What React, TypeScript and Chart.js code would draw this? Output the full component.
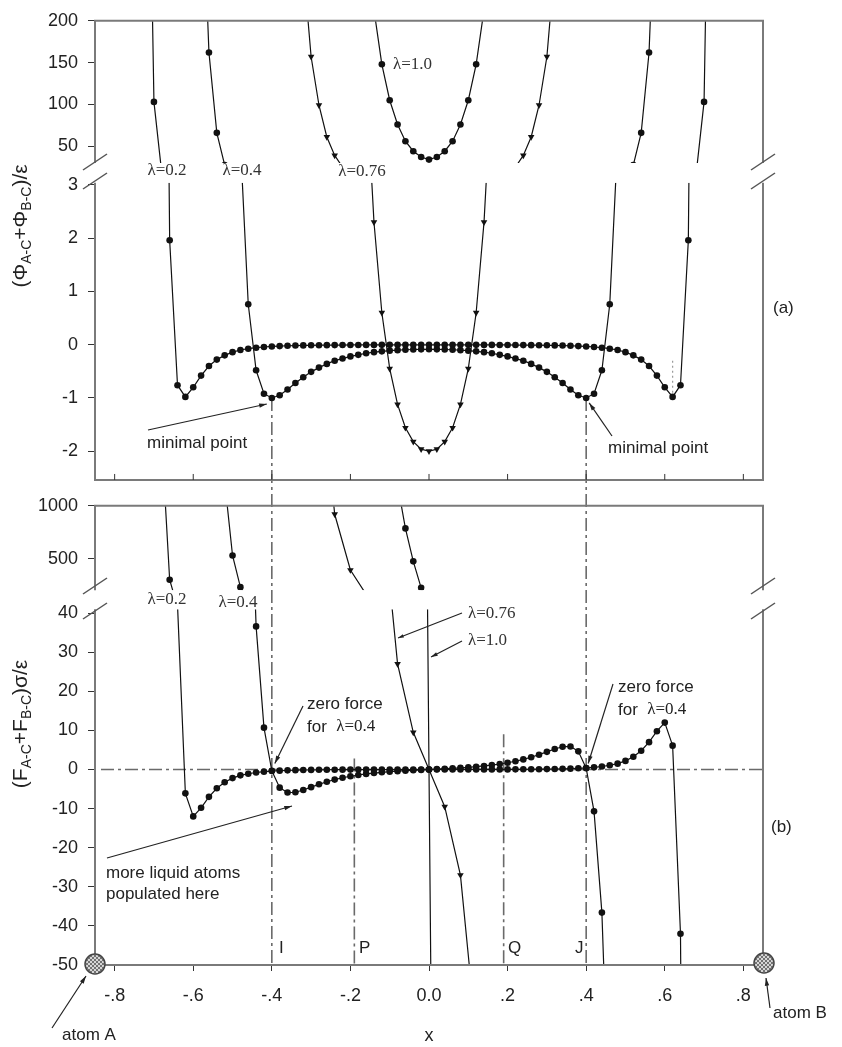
import React, { useEffect, useRef } from 'react';
import { Chart, registerables } from 'chart.js';

Chart.register(...registerables);

const SANS = '"Liberation Sans", Arial, Helvetica, sans-serif';
const SERIF = '"Liberation Serif", "Times New Roman", serif';

type P = [number, number];

// ---------- x axis ----------
const X_MIN = -0.85;
const X_MAX = 0.85;
const X_TICKS = [-0.8, -0.6, -0.4, -0.2, 0, 0.2, 0.4, 0.6, 0.8];
const X_TICK_LABELS = ['-.8', '-.6', '-.4', '-.2', '0.0', '.2', '.4', '.6', '.8'];

// ---------- y axes (broken) ----------
const Y_TICKS_A_UP = [50, 100, 150, 200];
const Y_TICKS_A_LOW = [-2, -1, 0, 1, 2, 3];
const Y_TICKS_B_UP = [500, 1000];
const Y_TICKS_B_LOW = [-50, -40, -30, -20, -10, 0, 10, 20, 30, 40];

const LAMBDA_LABELS = ['λ=0.2', 'λ=0.4', 'λ=0.76', 'λ=1.0'];

// ---------- panel (a): (Φ_A-C + Φ_B-C)/ε ----------
const PHI_02: P[] = [
  [-0.72, 650], [-0.70, 103], [-0.68, 17.5], [-0.66, 1.96], [-0.64, -0.76], [-0.62, -0.98],
  [-0.60, -0.80], [-0.58, -0.58], [-0.56, -0.40], [-0.54, -0.28], [-0.52, -0.20], [-0.50, -0.14],
  [-0.48, -0.10], [-0.46, -0.075], [-0.44, -0.056], [-0.42, -0.043], [-0.40, -0.033], [-0.38, -0.026],
  [-0.36, -0.020], [-0.34, -0.016], [-0.32, -0.013], [-0.30, -0.011], [-0.28, -0.009], [-0.26, -0.008],
  [-0.24, -0.007], [-0.22, -0.006], [-0.20, -0.005], [-0.18, -0.005], [-0.16, -0.004], [-0.14, -0.004],
  [-0.12, -0.003], [-0.10, -0.003], [-0.08, -0.003], [-0.06, -0.002], [-0.04, -0.002], [-0.02, -0.002],
  [0, -0.002],
  [0.02, -0.002], [0.04, -0.002], [0.06, -0.002], [0.08, -0.003], [0.10, -0.003], [0.12, -0.003],
  [0.14, -0.004], [0.16, -0.004], [0.18, -0.005], [0.20, -0.005], [0.22, -0.006], [0.24, -0.007],
  [0.26, -0.008], [0.28, -0.009], [0.30, -0.011], [0.32, -0.013], [0.34, -0.016], [0.36, -0.020],
  [0.38, -0.026], [0.40, -0.033], [0.42, -0.043], [0.44, -0.056], [0.46, -0.075], [0.48, -0.10],
  [0.50, -0.14], [0.52, -0.20], [0.54, -0.28], [0.56, -0.40], [0.58, -0.58], [0.60, -0.80],
  [0.62, -0.98], [0.64, -0.76], [0.66, 1.96], [0.68, 17.5], [0.70, 103], [0.72, 650],
];

const PHI_04: P[] = [
  [-0.58, 405], [-0.56, 162], [-0.54, 66], [-0.52, 27.5], [-0.50, 10.9], [-0.48, 3.80],
  [-0.46, 0.76], [-0.44, -0.48], [-0.42, -0.92], [-0.40, -1.00], [-0.38, -0.95], [-0.36, -0.84],
  [-0.34, -0.72], [-0.32, -0.61], [-0.30, -0.51], [-0.28, -0.43], [-0.26, -0.36], [-0.24, -0.30],
  [-0.22, -0.26], [-0.20, -0.22], [-0.18, -0.19], [-0.16, -0.16], [-0.14, -0.14], [-0.12, -0.125],
  [-0.10, -0.112], [-0.08, -0.102], [-0.06, -0.095], [-0.04, -0.090], [-0.02, -0.087], [0, -0.086],
  [0.02, -0.087], [0.04, -0.090], [0.06, -0.095], [0.08, -0.102], [0.10, -0.112], [0.12, -0.125],
  [0.14, -0.14], [0.16, -0.16], [0.18, -0.19], [0.20, -0.22], [0.22, -0.26], [0.24, -0.30],
  [0.26, -0.36], [0.28, -0.43], [0.30, -0.51], [0.32, -0.61], [0.34, -0.72], [0.36, -0.84],
  [0.38, -0.95], [0.40, -1.00], [0.42, -0.92], [0.44, -0.48], [0.46, 0.76], [0.48, 3.80],
  [0.50, 10.9], [0.52, 27.5], [0.54, 66], [0.56, 162], [0.58, 405],
];

const PHI_076: P[] = [
  [-0.32, 267], [-0.30, 157], [-0.28, 99], [-0.26, 61], [-0.24, 39], [-0.22, 25],
  [-0.20, 15.4], [-0.18, 9.1], [-0.16, 5.0], [-0.14, 2.3], [-0.12, 0.6], [-0.10, -0.45],
  [-0.08, -1.12], [-0.06, -1.56], [-0.04, -1.82], [-0.02, -1.96], [0, -2.0],
  [0.02, -1.96], [0.04, -1.82], [0.06, -1.56], [0.08, -1.12], [0.10, -0.45], [0.12, 0.6],
  [0.14, 2.3], [0.16, 5.0], [0.18, 9.1], [0.20, 15.4], [0.22, 25], [0.24, 39],
  [0.26, 61], [0.28, 99], [0.30, 157], [0.32, 267],
];

const PHI_10: P[] = [
  [-0.14, 213], [-0.12, 148], [-0.10, 105], [-0.08, 76], [-0.06, 56], [-0.04, 44], [-0.02, 37],
  [0, 34],
  [0.02, 37], [0.04, 44], [0.06, 56], [0.08, 76], [0.10, 105], [0.12, 148], [0.14, 213],
];

// ---------- panel (b): (F_A-C + F_B-C)σ/ε ----------
const F_02: P[] = [
  [-0.68, 1611], [-0.66, 300], [-0.64, 42], [-0.62, -6.1], [-0.60, -12.0], [-0.58, -9.8],
  [-0.56, -7.0], [-0.54, -4.8], [-0.52, -3.25], [-0.50, -2.2], [-0.48, -1.5], [-0.46, -1.08],
  [-0.44, -0.77], [-0.42, -0.55], [-0.40, -0.40], [-0.38, -0.30], [-0.36, -0.22], [-0.34, -0.17],
  [-0.32, -0.13], [-0.30, -0.10], [-0.28, -0.08], [-0.26, -0.06], [-0.24, -0.05], [-0.22, -0.04],
  [-0.20, -0.03], [-0.18, -0.025], [-0.16, -0.02], [-0.14, -0.015], [-0.12, -0.012], [-0.10, -0.009],
  [-0.08, -0.007], [-0.06, -0.005], [-0.04, -0.003], [-0.02, -0.002], [0, 0],
  [0.02, 0.002], [0.04, 0.003], [0.06, 0.005], [0.08, 0.007], [0.10, 0.009], [0.12, 0.012],
  [0.14, 0.015], [0.16, 0.02], [0.18, 0.025], [0.20, 0.03], [0.22, 0.04], [0.24, 0.05],
  [0.26, 0.06], [0.28, 0.08], [0.30, 0.10], [0.32, 0.13], [0.34, 0.17], [0.36, 0.22],
  [0.38, 0.30], [0.40, 0.40], [0.42, 0.55], [0.44, 0.77], [0.46, 1.08], [0.48, 1.5],
  [0.50, 2.2], [0.52, 3.25], [0.54, 4.8], [0.56, 7.0], [0.58, 9.8], [0.60, 12.0],
  [0.62, 6.1], [0.64, -42], [0.66, -300], [0.68, -1611],
];

const F_04: P[] = [
  [-0.52, 1232], [-0.50, 530], [-0.48, 230], [-0.46, 95], [-0.44, 36.6], [-0.42, 10.7],
  [-0.40, -0.34], [-0.38, -4.64], [-0.36, -5.89], [-0.34, -5.82], [-0.32, -5.25], [-0.30, -4.51],
  [-0.28, -3.79], [-0.26, -3.13], [-0.24, -2.58], [-0.22, -2.11], [-0.20, -1.72], [-0.18, -1.40],
  [-0.16, -1.13], [-0.14, -0.91], [-0.12, -0.72], [-0.10, -0.56], [-0.08, -0.43], [-0.06, -0.31],
  [-0.04, -0.20], [-0.02, -0.10], [0, 0],
  [0.02, 0.10], [0.04, 0.20], [0.06, 0.31], [0.08, 0.43], [0.10, 0.56], [0.12, 0.72],
  [0.14, 0.91], [0.16, 1.13], [0.18, 1.40], [0.20, 1.72], [0.22, 2.11], [0.24, 2.58],
  [0.26, 3.13], [0.28, 3.79], [0.30, 4.51], [0.32, 5.25], [0.34, 5.82], [0.36, 5.89],
  [0.38, 4.64], [0.40, 0.34], [0.42, -10.7], [0.44, -36.6], [0.46, -95], [0.48, -230],
  [0.50, -530], [0.52, -1232],
];

const F_076: P[] = [
  [-0.28, 2422], [-0.24, 920], [-0.20, 392], [-0.16, 162], [-0.12, 68], [-0.08, 27], [-0.04, 9.5],
  [0, 0],
  [0.04, -9.5], [0.08, -27], [0.12, -68], [0.16, -162], [0.20, -392], [0.24, -920], [0.28, -2422],
];

const F_10: P[] = [
  [-0.08, 1202], [-0.06, 786], [-0.04, 474], [-0.02, 223], [0, 0],
  [0.02, -223], [0.04, -474], [0.06, -786], [0.08, -1202],
];

// ---------- helpers ----------
const toXY = (pts: P[]) => pts.map(([x, y]) => ({ x, y }));

function curveSet(pts: P[], axis: string, tri: boolean, label: string) {
  return {
    label,
    data: toXY(pts),
    xAxisID: 'x',
    yAxisID: axis,
    borderColor: '#111',
    borderWidth: 1.2,
    pointRadius: tri ? 3.8 : 3.3,
    pointStyle: tri ? 'triangle' : 'circle',
    pointRotation: tri ? 180 : 0,
    pointBackgroundColor: '#111',
    pointBorderColor: '#111',
    pointBorderWidth: 0,
    tension: 0,
    fill: false,
  };
}

function yAxis(min: number, max: number, weight: number, stackWeight: number, ticks: number[]) {
  const show = ticks.length > 0;
  return {
    type: 'linear',
    position: 'left',
    stack: 'v',
    stackWeight,
    weight,
    min,
    max,
    bounds: 'data',
    afterFit: (s: any) => { s.width = 95; },
    afterBuildTicks: (s: any) => { s.ticks = ticks.map((v) => ({ value: v })); },
    border: { display: false },
    grid: { display: show, drawOnChartArea: false, drawTicks: true, tickLength: 7, color: '#333', lineWidth: 1 },
    ticks: {
      display: show,
      autoSkip: false,
      padding: 10,
      color: '#222',
      font: { family: SANS, size: 18 },
      callback: (v: number) => String(v),
    },
  };
}

function arrow(ctx: CanvasRenderingContext2D, x1: number, y1: number, x2: number, y2: number, head = 8) {
  ctx.beginPath();
  ctx.moveTo(x1, y1);
  ctx.lineTo(x2, y2);
  ctx.stroke();
  const a = Math.atan2(y2 - y1, x2 - x1);
  ctx.beginPath();
  ctx.moveTo(x2, y2);
  ctx.lineTo(x2 - head * Math.cos(a - 0.28), y2 - head * Math.sin(a - 0.28));
  ctx.lineTo(x2 - head * Math.cos(a + 0.28), y2 - head * Math.sin(a + 0.28));
  ctx.closePath();
  ctx.fill();
}

function mixedRotated(ctx: CanvasRenderingContext2D, segs: [string, boolean][], cx: number, cy: number) {
  const main = `21px ${SANS}`;
  const sub = `14px ${SANS}`;
  ctx.save();
  ctx.translate(cx, cy);
  ctx.rotate(-Math.PI / 2);
  let total = 0;
  for (const [t, s] of segs) {
    ctx.font = s ? sub : main;
    total += ctx.measureText(t).width;
  }
  let x = -total / 2;
  ctx.textBaseline = 'alphabetic';
  ctx.textAlign = 'left';
  for (const [t, s] of segs) {
    ctx.font = s ? sub : main;
    ctx.fillText(t, x, s ? 11 : 7);
    x += ctx.measureText(t).width;
  }
  ctx.restore();
}

const sectionClip = {
  id: 'sectionClip',
  beforeDatasetDraw(chart: any, args: any) {
    const ys = chart.scales[args.meta.yAxisID];
    const ca = chart.chartArea;
    const ctx = chart.ctx;
    ctx.save();
    ctx.beginPath();
    ctx.rect(ca.left, ys.top, ca.right - ca.left, ys.bottom - ys.top);
    ctx.clip();
  },
  afterDatasetDraw(chart: any) {
    chart.ctx.restore();
  },
};

const decor = {
  id: 'decor',
  beforeDatasetsDraw(chart: any) {
    const { ctx, scales: s } = chart;
    const X = (v: number) => s.x.getPixelForValue(v);
    const seg = (x1: number, y1: number, x2: number, y2: number) => {
      ctx.beginPath();
      ctx.moveTo(x1, y1);
      ctx.lineTo(x2, y2);
      ctx.stroke();
    };
    ctx.save();
    ctx.strokeStyle = '#6a6a6a';
    ctx.lineWidth = 1.6;
    ctx.setLineDash([13, 4, 3, 4]);
    const y0 = s.yBL.getPixelForValue(0);
    const yb = s.yBL.getPixelForValue(-50);
    seg(s.x.left + 6, y0, s.x.right, y0);
    seg(X(-0.4), s.yAL.getPixelForValue(-1), X(-0.4), yb);
    seg(X(0.4), s.yAL.getPixelForValue(-1), X(0.4), yb);
    seg(X(-0.19), s.yBL.getPixelForValue(2.8), X(-0.19), yb);
    seg(X(0.19), s.yBL.getPixelForValue(9), X(0.19), yb);
    ctx.setLineDash([2, 3]);
    ctx.strokeStyle = '#9a9a9a';
    ctx.lineWidth = 1.2;
    seg(X(0.62), s.yAL.getPixelForValue(-0.3), X(0.62), s.yAL.getPixelForValue(-0.95));
    ctx.restore();
  },
  afterDraw(chart: any) {
    const { ctx, scales: s, chartArea: ca } = chart;
    const L = ca.left;
    const R = ca.right;
    const X = (v: number) => s.x.getPixelForValue(v);
    ctx.save();

    // frames
    ctx.strokeStyle = '#7a7a7a';
    ctx.lineWidth = 2;
    const line = (x1: number, y1: number, x2: number, y2: number) => {
      ctx.beginPath();
      ctx.moveTo(x1, y1);
      ctx.lineTo(x2, y2);
      ctx.stroke();
    };
    for (const id of ['yAU', 'yAL', 'yBU', 'yBL']) {
      line(L, s[id].top, L, s[id].bottom);
      line(R, s[id].top, R, s[id].bottom);
    }
    line(L - 1, s.yAU.top, R + 1, s.yAU.top);
    line(L - 1, s.yAL.bottom, R + 1, s.yAL.bottom);
    line(L - 1, s.yBU.top, R + 1, s.yBU.top);
    line(L - 1, s.yBL.bottom, R + 1, s.yBL.bottom);

    // inward ticks at bottom of panel (a)
    ctx.strokeStyle = '#333';
    ctx.lineWidth = 1;
    for (const v of X_TICKS) line(X(v), s.yAL.bottom, X(v), s.yAL.bottom - 6);

    // axis breaks
    ctx.strokeStyle = '#555';
    ctx.lineWidth = 1.5;
    const slash = (cx: number, cy: number) => line(cx - 12, cy + 8, cx + 12, cy - 8);
    for (const x of [L, R]) {
      slash(x, 162); slash(x, 181);
      slash(x, 586); slash(x, 611);
    }

    // atoms
    const atom = (cx: number, cy: number) => {
      ctx.save();
      ctx.beginPath();
      ctx.arc(cx, cy, 10, 0, Math.PI * 2);
      ctx.fillStyle = '#d6d6d6';
      ctx.fill();
      ctx.clip();
      ctx.strokeStyle = '#666';
      ctx.lineWidth = 0.9;
      for (let k = -24; k <= 24; k += 4) {
        line(cx + k - 12, cy - 12, cx + k + 12, cy + 12);
        line(cx + k + 12, cy - 12, cx + k - 12, cy + 12);
      }
      ctx.restore();
      ctx.beginPath();
      ctx.arc(cx, cy, 10, 0, Math.PI * 2);
      ctx.strokeStyle = '#444';
      ctx.lineWidth = 1.5;
      ctx.stroke();
    };
    const yBot = s.yBL.getPixelForValue(-50);
    atom(X(-0.85), yBot - 1);
    atom(X(0.85) + 1, yBot - 2);

    // arrows
    ctx.strokeStyle = '#222';
    ctx.fillStyle = '#222';
    ctx.lineWidth = 1.2;
    arrow(ctx, 148, 430, X(-0.4) - 5, s.yAL.getPixelForValue(-1) + 6);
    arrow(ctx, 612, 436, X(0.4) + 3, s.yAL.getPixelForValue(-1) + 5);
    arrow(ctx, 303, 706, X(-0.4) + 3, s.yBL.getPixelForValue(0) - 6);
    arrow(ctx, 613, 684, X(0.4) + 2, s.yBL.getPixelForValue(0) - 6);
    arrow(ctx, 107, 858, 292, 806);
    arrow(ctx, 52, 1028, 86, 976);
    arrow(ctx, 770, 1008, 766, 978);
    arrow(ctx, 462, 613, 398, 638, 6);
    arrow(ctx, 462, 641, X(0) + 2, 657, 7);

    // texts
    ctx.fillStyle = '#222';
    ctx.textBaseline = 'middle';
    ctx.textAlign = 'left';
    ctx.font = `17px ${SANS}`;
    ctx.fillText('minimal point', 147, 443);
    ctx.fillText('minimal point', 608, 448);
    ctx.fillText('zero force', 307, 704);
    ctx.fillText('zero force', 618, 687);
    ctx.fillText('more liquid atoms', 106, 873);
    ctx.fillText('populated here', 106, 894);
    ctx.fillText('atom A', 62, 1035);
    ctx.fillText('atom B', 773, 1013);
    ctx.fillText('I', 279, 948);
    ctx.fillText('P', 359, 948);
    ctx.fillText('Q', 508, 948);
    ctx.fillText('J', 575, 948);
    ctx.fillText('(a)', 773, 308);
    ctx.fillText('(b)', 771, 827);
    const forLine = (x: number, y: number) => {
      ctx.font = `17px ${SANS}`;
      ctx.fillText('for', x, y);
      const w = ctx.measureText('for  ').width;
      ctx.font = `17px ${SERIF}`;
      ctx.fillText(LAMBDA_LABELS[1], x + w, y);
    };
    forLine(307, 727);
    forLine(618, 710);

    ctx.font = `18px ${SANS}`;
    ctx.textAlign = 'center';
    ctx.fillText('x', X(0), 1036);

    // lambda labels
    ctx.fillStyle = '#333';
    ctx.font = `17px ${SERIF}`;
    ctx.fillText(LAMBDA_LABELS[0], 167, 171);
    ctx.fillText(LAMBDA_LABELS[1], 242, 171);
    ctx.fillText(LAMBDA_LABELS[2], 362, 172);
    ctx.fillText(LAMBDA_LABELS[0], 167, 600);
    ctx.fillText(LAMBDA_LABELS[1], 238, 603);
    ctx.textAlign = 'left';
    ctx.fillText(LAMBDA_LABELS[3], 393, 65);
    ctx.fillText(LAMBDA_LABELS[2], 468, 614);
    ctx.fillText(LAMBDA_LABELS[3], 468, 641);

    // y-axis titles
    ctx.fillStyle = '#222';
    mixedRotated(ctx, [['(Φ', false], ['A-C', true], ['+Φ', false], ['B-C', true], [')/ε', false]], 20, 226);
    mixedRotated(ctx, [['(F', false], ['A-C', true], ['+F', false], ['B-C', true], [')σ/ε', false]], 20, 724);

    ctx.restore();
  },
};

export default function App() {
  const ref = useRef<HTMLCanvasElement>(null);

  useEffect(() => {
    if (!ref.current) return;
    const datasets: any[] = [];
    const panelA: [P[], boolean, string][] = [
      [PHI_02, false, LAMBDA_LABELS[0]],
      [PHI_04, false, LAMBDA_LABELS[1]],
      [PHI_076, true, LAMBDA_LABELS[2]],
      [PHI_10, false, LAMBDA_LABELS[3]],
    ];
    const panelB: [P[], boolean, string][] = [
      [F_02, false, LAMBDA_LABELS[0]],
      [F_04, false, LAMBDA_LABELS[1]],
      [F_076, true, LAMBDA_LABELS[2]],
      [F_10, false, LAMBDA_LABELS[3]],
    ];
    for (const [p, t, l] of panelA) {
      datasets.push(curveSet(p, 'yAU', t, l));
      datasets.push(curveSet(p, 'yAL', t, l));
    }
    for (const [p, t, l] of panelB) {
      datasets.push(curveSet(p, 'yBU', t, l));
      datasets.push(curveSet(p, 'yBL', t, l));
    }

    const chart = new Chart(ref.current, {
      type: 'line',
      data: { datasets },
      options: {
        responsive: false,
        animation: false,
        devicePixelRatio: 1,
        layout: { padding: { top: 15, right: 79, left: 0, bottom: 0 } },
        plugins: { legend: { display: false }, tooltip: { enabled: false } },
        events: [],
        scales: {
          x: {
            type: 'linear',
            position: 'bottom',
            min: X_MIN,
            max: X_MAX,
            bounds: 'data',
            afterFit: (sc: any) => { sc.height = 82; },
            afterBuildTicks: (sc: any) => { sc.ticks = X_TICKS.map((v) => ({ value: v })); },
            border: { display: false },
            grid: { drawOnChartArea: false, drawTicks: true, tickLength: 6, color: '#333' },
            ticks: {
              padding: 14,
              color: '#222',
              autoSkip: false,
              maxRotation: 0,
              font: { family: SANS, size: 18 },
              callback: (v: number) => {
                const i = X_TICKS.findIndex((t) => Math.abs(t - v) < 1e-9);
                return i >= 0 ? X_TICK_LABELS[i] : '';
              },
            },
          },
          yAU: yAxis(30, 200, 7, 143, Y_TICKS_A_UP),
          gA: yAxis(0, 1, 6, 20, []),
          yAL: yAxis(-2.54, 3.04, 5, 299, Y_TICKS_A_LOW),
          gP: yAxis(0, 1, 4, 26, []),
          yBU: yAxis(200, 1000, 3, 85, Y_TICKS_B_UP),
          gB: yAxis(0, 1, 2, 19, []),
          yBL: yAxis(-50, 41, 1, 358, Y_TICKS_B_LOW),
        },
      } as any,
      plugins: [sectionClip, decor],
    });
    return () => chart.destroy();
  }, []);

  return (
    <div style={{ position: 'absolute', left: 0, top: 0, width: 842, height: 1047, background: '#fff' }}>
      <canvas ref={ref} width={842} height={1047} style={{ display: 'block' }} />
    </div>
  );
}
